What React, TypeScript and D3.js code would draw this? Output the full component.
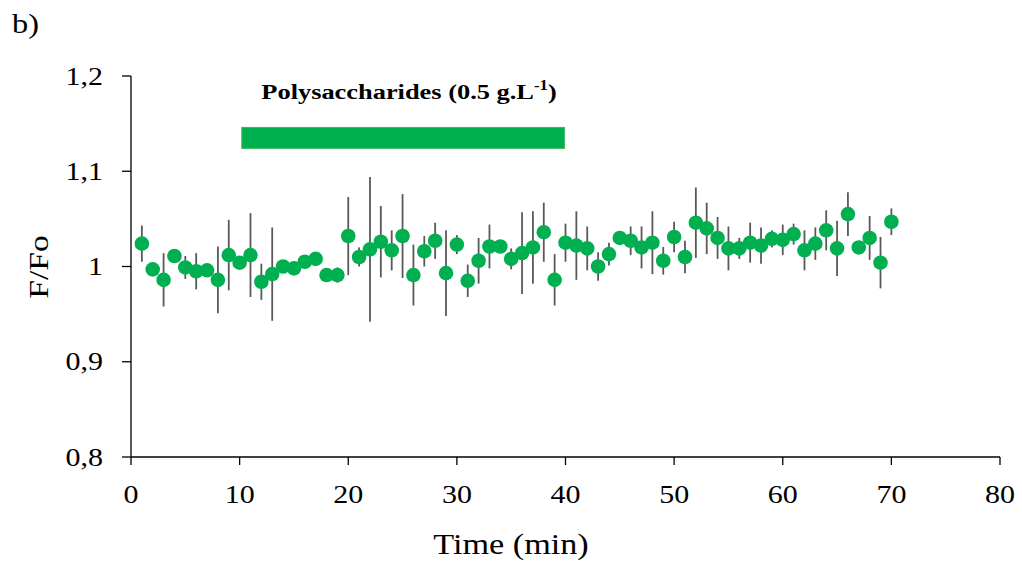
import React from "react";
import * as d3 from "d3";

const times = [1,2,3,4,5,6,7,8,9,10,11,12,13,14,15,16,17,18,19,20,21,22,23,24,25,26,27,28,29,30,31,32,33,34,35,36,37,38,39,40,41,42,43,44,45,46,47,48,49,50,51,52,53,54,55,56,57,58,59,60,61,62,63,64,65,66,67,68,69,70];
const ratio = [1.024,0.997,0.986,1.011,0.999,0.995,0.996,0.986,1.012,1.004,1.012,0.984,0.992,1.000,0.998,1.005,1.008,0.991,0.991,1.032,1.010,1.018,1.026,1.017,1.032,0.991,1.016,1.027,0.993,1.023,0.985,1.006,1.021,1.021,1.008,1.014,1.020,1.036,0.986,1.025,1.022,1.019,1.000,1.013,1.030,1.027,1.020,1.025,1.006,1.031,1.010,1.046,1.040,1.030,1.019,1.019,1.025,1.022,1.029,1.028,1.034,1.017,1.024,1.038,1.019,1.055,1.020,1.030,1.004,1.047];
const errs = [0.019,0.006,0.028,0.006,0.012,0.019,0.006,0.035,0.037,0.006,0.044,0.019,0.049,0.005,0.005,0.005,0.005,0.005,0.008,0.041,0.010,0.076,0.0375,0.021,0.044,0.032,0.016,0.019,0.045,0.010,0.017,0.024,0.023,0.006,0.011,0.043,0.038,0.031,0.027,0.020,0.036,0.023,0.015,0.012,0.006,0.015,0.022,0.033,0.0145,0.016,0.017,0.037,0.027,0.022,0.023,0.011,0.021,0.019,0.009,0.016,0.011,0.021,0.017,0.021,0.029,0.023,0.006,0.023,0.027,0.014];
const xTicks = [0,10,20,30,40,50,60,70,80];
const yTicks = [0.8,0.9,1.0,1.1,1.2];
const yTickLabels = ["0,8","0,9","1","1,1","1,2"];
const treatment = { start: 10.2, end: 39.9, top: 1.146, bottom: 1.124 };

const W = 1022, H = 567;
const x = d3.scaleLinear().domain([0, 80]).range([131, 1000]);
const y = d3.scaleLinear().domain([0.8, 1.2]).range([457, 76]);
const FONT = "'Liberation Serif','Times New Roman',serif";
const SX = 1.2;

function SText({ x: tx, y: ty, anchor = "start", size, bold = false, rotate = 0, children }: any) {
  return (
    <text
      transform={`translate(${tx},${ty}) rotate(${rotate}) scale(${SX},1)`}
      textAnchor={anchor}
      fontFamily={FONT}
      fontSize={size}
      fontWeight={bold ? "bold" : "normal"}
      fill="#000"
    >
      {children}
    </text>
  );
}

export default function App() {
  const green = "#00B050";
  return (
    <svg width={W} height={H} style={{ position: "absolute", left: 0, top: 0, background: "#fff" }}>
      <rect width={W} height={H} fill="#fff" />
      <SText x={12} y={33} size={27}>b)</SText>

      {/* axes */}
      <line x1={x(0)} x2={x(80)} y1={y(0.8)} y2={y(0.8)} stroke="#000" strokeWidth={1.3} />
      <line x1={x(0)} x2={x(0)} y1={y(0.8)} y2={y(1.2)} stroke="#000" strokeWidth={1.3} />
      {yTicks.map((t, i) => (
        <g key={"y" + i}>
          <line x1={x(0) - 9} x2={x(0)} y1={y(t)} y2={y(t)} stroke="#000" strokeWidth={1.3} />
          <SText x={103} y={y(t) + 8.5} anchor="end" size={25}>{yTickLabels[i]}</SText>
        </g>
      ))}
      {xTicks.map((t, i) => (
        <g key={"x" + i}>
          <line x1={x(t)} x2={x(t)} y1={y(0.8)} y2={y(0.8) + 8} stroke="#000" strokeWidth={1.3} />
          <SText x={x(t)} y={503} anchor="middle" size={25}>{t}</SText>
        </g>
      ))}
      <SText x={511} y={554} anchor="middle" size={28.5}>Time (min)</SText>
      <SText x={48} y={267} anchor="middle" size={28} rotate={-90}>F/Fo</SText>

      {/* treatment bar */}
      <rect
        x={x(treatment.start)}
        y={y(treatment.top)}
        width={x(treatment.end) - x(treatment.start)}
        height={y(treatment.bottom) - y(treatment.top)}
        fill={green}
        stroke="#3DB558"
        strokeWidth={1}
      />
      <text
        transform={`translate(409,99) scale(${SX},1)`}
        textAnchor="middle"
        fontFamily={FONT}
        fontSize={22}
        fontWeight="bold"
      >
        Polysaccharides (0.5 g.L<tspan dy={-9} fontSize={14}>-1</tspan><tspan dy={9}>)</tspan>
      </text>

      {/* error bars */}
      {times.map((t, i) => (
        <line
          key={"e" + i}
          x1={x(t)}
          x2={x(t)}
          y1={y(ratio[i] - errs[i])}
          y2={y(ratio[i] + errs[i])}
          stroke="#595959"
          strokeWidth={1.8}
        />
      ))}
      {/* points */}
      {times.map((t, i) => (
        <circle key={"p" + i} cx={x(t)} cy={y(ratio[i])} r={7.3} fill={green} />
      ))}
    </svg>
  );
}
